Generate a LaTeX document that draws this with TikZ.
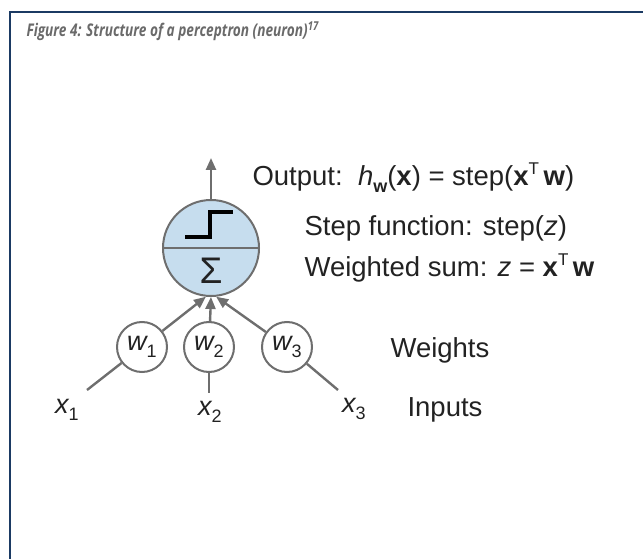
\documentclass[tikz,border=0pt]{standalone}
\usepackage{fontspec}
\setmainfont{Liberation Sans}
\newfontfamily\titlefont[FakeStretch=0.78]{Open Sans}
\usetikzlibrary{arrows.meta}
\definecolor{framenavy}{HTML}{1B3A63}
\definecolor{linegrey}{HTML}{6E6E6E}
\definecolor{cellblue}{HTML}{C6DDEE}
\definecolor{titlegrey}{HTML}{6A6A6A}
\definecolor{textdark}{HTML}{222222}
\newcommand{\lowidx}[1]{\raisebox{-0.45ex}{\fontsize{18}{18}\selectfont\upshape #1}}
\newcommand{\highidx}[1]{\raisebox{0.75ex}{\fontsize{17}{17}\selectfont\mdseries #1}}
\tikzset{
  unit/.style={circle,draw=linegrey,line width=2pt,fill=white,minimum size=50pt,inner sep=0pt,
    text=textdark,font=\fontsize{27}{27}\selectfont\itshape},
  link/.style={draw=linegrey,line width=2.4pt},
  feed/.style={link,-{Triangle[length=12pt,width=10pt]}},
  caption/.style={anchor=west,text=textdark,font=\fontsize{27.5}{27.5}\selectfont},
  inlabel/.style={text=textdark,font=\fontsize{27}{27}\selectfont\itshape},
}

\begin{document}
\begin{tikzpicture}[x=1pt,y=-1pt]
  \useasboundingbox (0,0) rectangle (643,559);
  \draw[framenavy,line width=2pt] (10,559) -- (10,12) -- (643,12);
  \node[anchor=west,text=titlegrey,font=\titlefont\bfseries\itshape\fontsize{17.5}{17.5}\selectfont]
    (title) at (23,31) {Figure 4: Structure of a perceptron (neuron)\textsuperscript{17}};

  \node[circle,draw=linegrey,line width=2pt,fill=cellblue,minimum size=96pt,inner sep=0pt]
    (neuron) at (211,248) {};
  \draw[linegrey,line width=2pt] (neuron.west) -- (neuron.east);
  \draw[black,line width=3.4pt] ([shift={(-26,-11)}]neuron.center) -- ++(25,0) -- ++(0,-25) -- ++(23,0);
  \node[text=textdark,font=\fontsize{37}{37}\selectfont,inner sep=0pt] (sigma) at ([shift={(0,23)}]neuron.center) {Σ};
  \coordinate (out) at (211,158);
  \draw[feed] (neuron.north) -- (out);

  \node[unit] (w1) at (142,347) {w\lowidx{1}};
  \node[unit] (w2) at (209,347) {w\lowidx{2}};
  \node[unit] (w3) at (287,347) {w\lowidx{3}};
  \draw[feed] (w1) -- (neuron.-96);
  \draw[feed] (w2) -- (neuron.-90);
  \draw[feed] (w3) -- (neuron.-84);

  \coordinate (in1) at (87,390);
  \coordinate (in2) at (209,393);
  \coordinate (in3) at (338,390);
  \draw[link] (w1) -- (in1);
  \draw[link] (w2) -- (in2);
  \draw[link] (w3) -- (in3);
  \node[inlabel] (x1) at (67,410) {x\lowidx{1}};
  \node[inlabel] (x2) at (210,412) {x\lowidx{2}};
  \node[inlabel] (x3) at (354,409) {x\lowidx{3}};

  \node[caption] (output) at (249,178)
    {Output:\ \ \textit{h}\raisebox{-0.5ex}{\fontsize{18}{18}\selectfont\bfseries w}(\textbf{x}) = step(\textbf{x}\highidx{T}\,\textbf{w})};
  \node[caption] (stepfn) at (301,228) {Step function: step(\textit{z})};
  \node[caption] (wsum) at (301,268) {Weighted sum: \textit{z} = \textbf{x}\highidx{T}\,\textbf{w}};
  \node[caption] (weights) at (387,350) {Weights};
  \node[caption] (inputs) at (404,410) {Inputs};
\end{tikzpicture}
\end{document}
